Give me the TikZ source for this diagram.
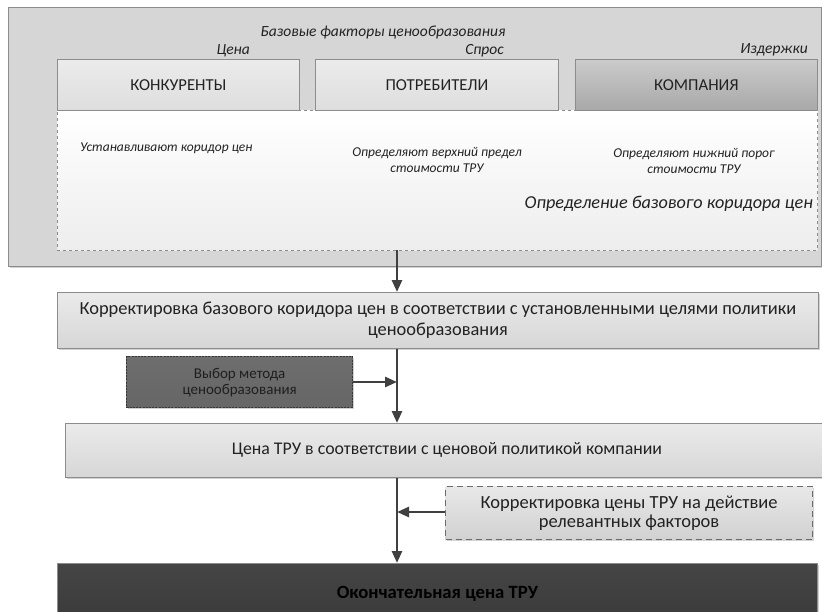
\documentclass[tikz,border=0pt]{standalone}
\usepackage{fontspec}
\setmainfont{Carlito}
\usetikzlibrary{arrows.meta,shadows}
\definecolor{outerbg}{HTML}{D6D6D6}
\definecolor{linegray}{HTML}{8C8C8C}
\definecolor{arrowc}{HTML}{404040}
\definecolor{txt}{HTML}{222222}
\tikzset{
  hdrbox/.style={draw=linegray, line width=0.8pt, top color=#1!60!white, bottom color=#1, minimum height=51pt, anchor=north west, inner sep=0pt, font=\fontsize{16.7}{18}\selectfont, text=txt},
  flowbox/.style={draw=linegray, line width=0.8pt, top color=#1!50!white, bottom color=#1, anchor=north west, inner sep=0pt, align=center, text=txt, drop shadow={shadow xshift=1.5pt,shadow yshift=-1.5pt,opacity=0.35}},
  itlabel/.style={font=\itshape\fontsize{15.5}{17}\selectfont, text=txt, inner sep=0pt},
  smallit/.style={font=\itshape\fontsize{13.5}{16.5}\selectfont, text=txt, inner sep=0pt, align=center},
  flowarrow/.style={draw=arrowc, line width=2.6pt, -{Triangle[width=10pt,length=12pt]}},
  flowline/.style={draw=arrowc, line width=2.6pt},
}
\begin{document}
\begin{tikzpicture}[x=1pt,y=-1pt]
\clip (0,0) rectangle (822,611);
\fill[white] (0,0) rectangle (822,611);
% outer box
\node[draw=linegray, line width=0.8pt, fill=outerbg, anchor=north west, minimum width=813pt, minimum height=259pt, inner sep=0pt, drop shadow={shadow xshift=1.5pt,shadow yshift=-1.5pt,opacity=0.35}] (outer) at (8,7) {};
% inner dashed region
\node[draw=linegray, dashed, line width=0.8pt, top color=white, bottom color=white!93!black, anchor=north west, minimum width=760pt, minimum height=140pt, inner sep=0pt] (inner) at (57,110) {};
% header boxes
\node[hdrbox=white!87!black, minimum width=242pt] (konk) at (57,59) {КОНКУРЕНТЫ};
\node[hdrbox=white!87!black, minimum width=243pt] (potr) at (315,59) {ПОТРЕБИТЕЛИ};
\node[hdrbox=white!66!black, minimum width=242pt] (komp) at (575,59) {КОМПАНИЯ};
% labels
\node[itlabel] (bazf) at (383,33) {Базовые факторы ценообразования};
\node[itlabel, anchor=east] (lcena) at (250,51) {Цена};
\node[itlabel, anchor=east] (lspros) at (504,51) {Спрос};
\node[itlabel, anchor=east] (lizd) at (808,50) {Издержки};
\node[smallit, anchor=west] (t1) at (80,148) {Устанавливают коридор цен};
\node[smallit] (t2) at (437,160) {Определяют верхний предел\\стоимости ТРУ};
\node[smallit] (t3) at (694,161) {Определяют нижний порог\\стоимости ТРУ};
\node[inner sep=0pt, anchor=east, font=\itshape\fontsize{18.2}{20}\selectfont, text=txt] (t4) at (813,204) {Определение базового коридора цен};
% flow boxes
\node[flowbox=white!84!black, minimum width=761pt, minimum height=56pt, font=\fontsize{18.4}{21}\selectfont] (b2) at (57,292) {Корректировка базового коридора цен в соответствии с установленными целями политики\\ценообразования};
\node[flowbox=white!41!black, top color=white!43!black, bottom color=white!40!black, draw=white!22!black, dash pattern=on 2pt off 1.2pt, line width=1.3pt, minimum width=226pt, minimum height=51pt, font=\fontsize{15}{16}\selectfont, text=black!88] (b2a) at (126,356) {Выбор метода\\ценообразования};
\node[flowbox=white!84!black, minimum width=763pt, minimum height=54pt, font=\fontsize{17.8}{20}\selectfont] (b3) at (65,423) {Цена ТРУ в соответствии с ценовой политикой компании};
\node[flowbox=white!82!black, draw=white!42!black, dash pattern=on 6pt off 4pt, line width=1.2pt, minimum width=367pt, minimum height=53pt, font=\fontsize{18.5}{18.5}\selectfont] (b3a) at (445,486) {Корректировка цены ТРУ на действие\\релевантных факторов};
\node[flowbox=white!24!black, bottom color=white!23!black, top color=white!27!black, minimum width=760pt, minimum height=60pt, font=\bfseries\fontsize{18.7}{20}\selectfont, text=black] (b4) at (57,563) {Окончательная цена ТРУ};
% connectors
\coordinate (s1) at (397,250);
\coordinate (j1) at (397,382);
\coordinate (j2) at (397,512);
\draw[flowarrow] (s1) -- (s1 |- b2.north);
\draw[flowline] (b2.south -| s1) -- (j1);
\draw[flowarrow] (j1) -- (j1 |- b3.north);
\draw[flowarrow] (b2a.east |- j1) -- (j1);
\draw[flowline] (b3.south -| j2) -- (j2);
\draw[flowarrow] (j2) -- (j2 |- b4.north);
\draw[flowarrow] (b3a.west |- j2) -- (j2);
\end{tikzpicture}
\end{document}
